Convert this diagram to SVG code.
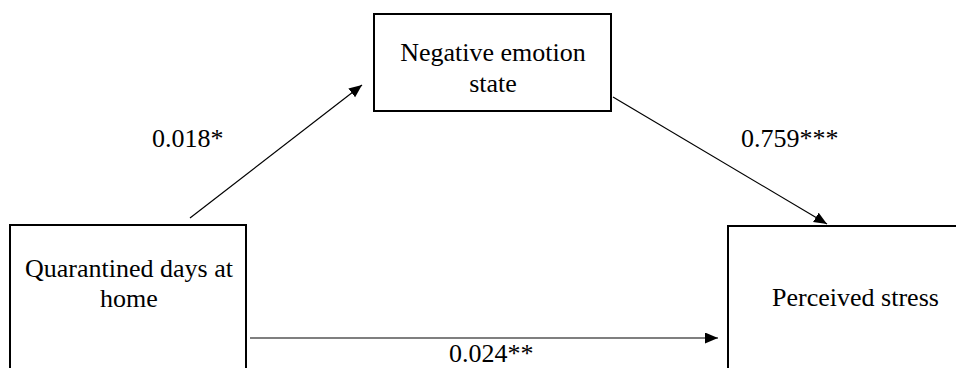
<svg xmlns="http://www.w3.org/2000/svg" width="956" height="368" viewBox="0 0 956 368">
<style>
.box{fill:#fff;stroke:#000;stroke-width:2}
.t{font-family:"Liberation Serif","Times New Roman",serif;font-size:26px;fill:#000}
.c{text-anchor:middle}
.ln{stroke:#000;stroke-width:1.2;fill:none}
</style>
<defs>
<marker id="ah" markerUnits="userSpaceOnUse" markerWidth="14" markerHeight="12" refX="13" refY="5.5" orient="auto">
<path d="M0,0 L13,5.5 L0,11 z" fill="#000"/>
</marker>
</defs>
<rect width="956" height="368" fill="#fff"/>
<g id="connectors">
<line class="ln" x1="190" y1="218" x2="362" y2="85" marker-end="url(#ah)"/>
<line class="ln" x1="613" y1="97" x2="827" y2="224" marker-end="url(#ah)"/>
<line class="ln" x1="250" y1="338" x2="718" y2="338" marker-end="url(#ah)"/>
<text class="t" x="152" y="147">0.018*</text>
<text class="t" x="741" y="147">0.759***</text>
<text class="t" x="449" y="362">0.024**</text>
</g>
<g id="node-quarantined">
<rect class="box" x="10" y="225" width="236" height="160"/>
<text class="t c" x="129" y="277">Quarantined days at</text>
<text class="t c" x="129" y="307">home</text>
</g>
<g id="node-negative">
<rect class="box" x="374" y="14" width="237" height="97"/>
<text class="t c" x="493" y="60.5">Negative emotion</text>
<text class="t c" x="493" y="92">state</text>
</g>
<g id="node-stress">
<rect class="box" x="728" y="226" width="260" height="160"/>
<text class="t c" x="855.5" y="306">Perceived stress</text>
</g>
</svg>
